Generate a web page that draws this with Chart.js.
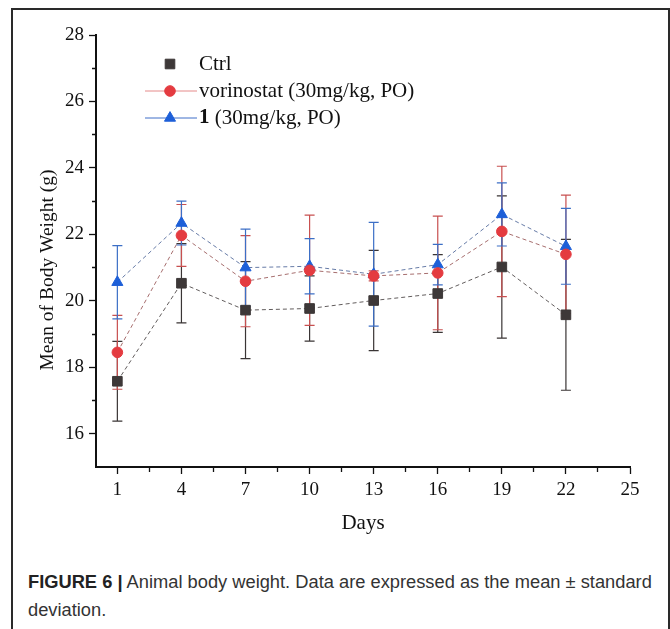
<!DOCTYPE html>
<html>
<head>
<meta charset="utf-8">
<script src="https://cdn.jsdelivr.net/npm/chart.js@4.4.1/dist/chart.umd.min.js"></script>
<style>
  body { margin: 0; background: #fff; width: 670px; height: 629px; overflow: hidden; position: relative; }
  #frame { position: absolute; left: 11px; top: 8px; width: 655px; height: 700px; border: 2px solid #2a2a2a; }
  #wrap { position: absolute; left: 0; top: 0; width: 670px; height: 540px; }
  #caption { position: absolute; left: 28px; top: 568px; font-family: "Liberation Sans", Arial, sans-serif;
             font-size: 18.3px; line-height: 28px; color: #333; white-space: nowrap; }
  #caption b { color: #222; }
</style>
</head>
<body>
<div id="frame"></div>
<div id="wrap"><canvas id="chart" width="670" height="540"></canvas></div>
<div id="caption"><b>FIGURE 6 |</b> Animal body weight. Data are expressed as the mean ± standard<br>deviation.</div>
<script>
// days and values
var days = [1, 4, 7, 10, 13, 16, 19, 22];
var ctrlMean = [17.58, 20.53, 19.72, 19.77, 20.01, 20.22, 21.02, 19.58];
var ctrlSd   = [1.20, 1.19, 1.46, 0.98, 1.51, 1.17, 2.14, 2.27];
var vorMean  = [18.45, 21.97, 20.59, 20.92, 20.75, 20.84, 22.09, 21.40];
var vorSd    = [1.11, 0.93, 1.37, 1.66, 0.15, 1.71, 1.96, 1.78];
var cpdMean  = [20.56, 22.34, 21.00, 21.04, 20.80, 21.09, 22.60, 21.64];
var cpdSd    = [1.10, 0.66, 1.16, 0.83, 1.56, 0.61, 0.95, 1.14];

var xMajor = [1, 4, 7, 10, 13, 16, 19, 22, 25];
var xMinor = [2.5, 5.5, 8.5, 11.5, 14.5, 17.5, 20.5, 23.5];
var yMajor = [16, 18, 20, 22, 24, 26, 28];
var yMinor = [17, 19, 21, 23, 25, 27];

var serif = "'Liberation Serif', 'Times New Roman', serif";

function pts(mean) {
  return days.map(function(d, i){ return {x: d, y: mean[i]}; });
}

var series = [
  {label: 'Ctrl', mean: ctrlMean, sd: ctrlSd, style: 'rect', radius: 6.8,
   fill: '#3d3838', line: 'rgba(70,65,65,0.85)', bar: '#3a3535'},
  {label: 'vorinostat (30mg/kg, PO)', mean: vorMean, sd: vorSd, style: 'circle', radius: 5.3,
   fill: '#e43b40', line: 'rgba(150,85,85,0.85)', bar: '#c85050'},
  {label: '1 (30mg/kg, PO)', mean: cpdMean, sd: cpdSd, style: 'triangle', radius: 6.4,
   fill: '#1d5fd8', line: 'rgba(75,100,150,0.85)', bar: '#3c6fc6'}
];

var errorBars = {
  id: 'errorBars',
  beforeDatasetsDraw: function(chart) {
    var ctx = chart.ctx, xs = chart.scales.x, ys = chart.scales.y;
    ctx.save();
    ctx.lineWidth = 1.2;
    series.forEach(function(s) {
      ctx.strokeStyle = s.bar;
      days.forEach(function(d, i) {
        var px = xs.getPixelForValue(d);
        var top = ys.getPixelForValue(s.mean[i] + s.sd[i]);
        var bot = ys.getPixelForValue(s.mean[i] - s.sd[i]);
        ctx.beginPath();
        ctx.moveTo(px, top); ctx.lineTo(px, bot);
        ctx.moveTo(px - 5, top); ctx.lineTo(px + 5, top);
        ctx.moveTo(px - 5, bot); ctx.lineTo(px + 5, bot);
        ctx.stroke();
      });
    });
    ctx.restore();
  }
};

var legendBox = {
  id: 'legendBox',
  afterDraw: function(chart) {
    var ctx = chart.ctx;
    var rows = [64, 91, 118];
    ctx.save();
    ctx.textBaseline = 'middle';
    // line samples
    ctx.lineWidth = 1;
    ctx.strokeStyle = '#e58a8a';
    ctx.beginPath(); ctx.moveTo(145, rows[1]); ctx.lineTo(197, rows[1]); ctx.stroke();
    ctx.strokeStyle = '#3f6fc8';
    ctx.beginPath(); ctx.moveTo(145, rows[2]); ctx.lineTo(197, rows[2]); ctx.stroke();
    series.forEach(function(s, i) {
      ctx.fillStyle = s.fill; ctx.strokeStyle = s.fill;
      Chart.helpers.drawPoint(ctx, {pointStyle: s.style, radius: s.radius, rotation: 0, borderWidth: 1}, 170, rows[i]);
    });
    ctx.fillStyle = '#111';
    ctx.font = '21px ' + serif;
    ctx.fillText('Ctrl', 199, rows[0]);
    ctx.fillText('vorinostat (30mg/kg, PO)', 199, rows[1]);
    ctx.font = 'bold 21px ' + serif;
    ctx.fillText('1', 199, rows[2]);
    var w = ctx.measureText('1').width;
    ctx.font = '21px ' + serif;
    ctx.fillText(' (30mg/kg, PO)', 199 + w, rows[2]);

    // y axis title, sits a little below the plot middle in the original
    ctx.translate(48, 270);
    ctx.rotate(-Math.PI / 2);
    ctx.textAlign = 'center';
    ctx.font = '19.5px ' + serif;
    ctx.fillText('Mean of Body Weight (g)', 0, 0);
    ctx.restore();
  }
};

var datasets = series.map(function(s) {
  return {
    label: s.label,
    data: pts(s.mean),
    borderColor: s.line,
    borderWidth: 1,
    borderDash: [4, 3],
    backgroundColor: s.fill,
    pointStyle: s.style,
    pointRadius: s.radius,
    pointBorderColor: s.fill,
    pointBackgroundColor: s.fill,
    pointBorderWidth: 1,
    tension: 0
  };
});

new Chart(document.getElementById('chart'), {
  type: 'line',
  data: {datasets: datasets},
  plugins: [errorBars, legendBox],
  options: {
    responsive: false,
    animation: false,
    layout: {padding: {left: 0, right: 40, top: 35, bottom: 0}},
    plugins: {legend: {display: false}, tooltip: {enabled: false}},
    scales: {
      x: {
        type: 'linear', min: 0, max: 25,
        afterBuildTicks: function(s) {
          s.ticks = xMajor.concat(xMinor).sort(function(a, b){ return a - b; }).map(function(v){ return {value: v}; });
        },
        afterFit: function(s) { s.height = 73; },
        ticks: {
          autoSkip: false, maxRotation: 0, padding: 5, color: '#111',
          font: {family: serif, size: 19},
          callback: function(v) { return xMajor.indexOf(v) >= 0 ? String(v) : ''; }
        },
        grid: {
          display: true, drawOnChartArea: false, tickLength: 7, tickColor: '#111', tickWidth: 1.3,
          tickBorderDash: function(c) { return xMajor.indexOf(c.tick.value) >= 0 ? [] : [4, 20]; }
        },
        border: {display: true, color: '#111', width: 2},
        title: {display: true, text: 'Days', color: '#111', font: {family: serif, size: 21}, padding: {top: 0, bottom: 4}}
      },
      y: {
        type: 'linear', min: 15, max: 28,
        afterBuildTicks: function(s) {
          s.ticks = yMajor.concat(yMinor).sort(function(a, b){ return a - b; }).map(function(v){ return {value: v}; });
        },
        afterFit: function(s) { s.width = 96; },
        ticks: {
          autoSkip: false, padding: 5, color: '#111',
          font: {family: serif, size: 19},
          callback: function(v) { return yMajor.indexOf(v) >= 0 ? String(v) : ''; }
        },
        grid: {
          display: true, drawOnChartArea: false, tickLength: 7, tickColor: '#111', tickWidth: 1.3,
          tickBorderDash: function(c) { return yMajor.indexOf(c.tick.value) >= 0 ? [] : [0, 3, 4, 20]; }
        },
        border: {display: true, color: '#111', width: 2},
        title: {display: false}
      }
    }
  }
});
</script>
</body>
</html>
